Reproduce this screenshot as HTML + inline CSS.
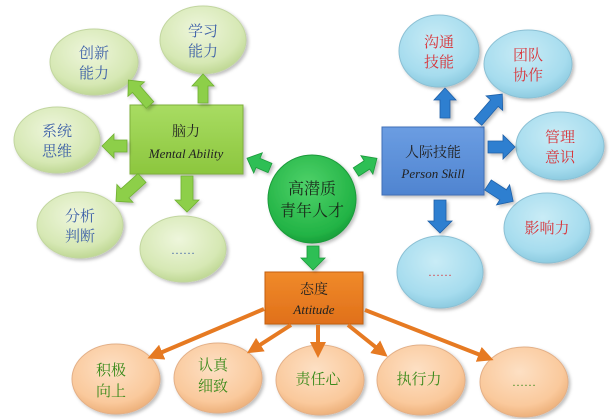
<!DOCTYPE html>
<html><head><meta charset="utf-8"><style>
html,body{margin:0;padding:0;background:#fff}
svg{display:block}
.cj{font-family:"Liberation Serif","Noto Serif CJK SC",serif;font-size:15px;text-anchor:middle}
.en{font-family:"Liberation Serif",serif;font-style:italic;font-size:13px;text-anchor:middle}
</style></head><body>
<svg width="614" height="419" viewBox="0 0 614 419" xmlns="http://www.w3.org/2000/svg">
<defs>
<radialGradient id="gG" cx="0.45" cy="0.35" r="0.7"><stop offset="0" stop-color="#eef6dc"/><stop offset="0.7" stop-color="#d6e8b4"/><stop offset="1" stop-color="#b9d38c"/></radialGradient>
<radialGradient id="bG" cx="0.45" cy="0.35" r="0.7"><stop offset="0" stop-color="#c9ecf6"/><stop offset="0.7" stop-color="#a6dcee"/><stop offset="1" stop-color="#86c6dc"/></radialGradient>
<radialGradient id="oG" cx="0.45" cy="0.35" r="0.7"><stop offset="0" stop-color="#fde0c4"/><stop offset="0.7" stop-color="#fac99c"/><stop offset="1" stop-color="#e9aa72"/></radialGradient>
<radialGradient id="cG" cx="0.45" cy="0.35" r="0.7"><stop offset="0" stop-color="#4fd26a"/><stop offset="0.8" stop-color="#22b345"/><stop offset="1" stop-color="#169636"/></radialGradient>
<linearGradient id="gR" x1="0" y1="0" x2="0" y2="1"><stop offset="0" stop-color="#a8dc62"/><stop offset="1" stop-color="#8cc63e"/></linearGradient>
<linearGradient id="bR" x1="0" y1="0" x2="0" y2="1"><stop offset="0" stop-color="#6b9de2"/><stop offset="1" stop-color="#4f84d0"/></linearGradient>
<linearGradient id="oR" x1="0" y1="0" x2="0" y2="1"><stop offset="0" stop-color="#f08a2a"/><stop offset="1" stop-color="#e0701a"/></linearGradient>
<marker id="mk" markerWidth="4" markerHeight="4" refX="2.5" refY="2" orient="auto" markerUnits="strokeWidth"><path d="M0,0 L4,2 L0,4 Z" fill="#e67a22"/></marker>
<filter id="sh" x="-20%" y="-20%" width="150%" height="150%"><feDropShadow dx="2" dy="2" stdDeviation="1.5" flood-color="#000" flood-opacity="0.25"/></filter>
</defs>

<!-- green ellipses -->
<g fill="url(#gG)" stroke="#c2d6a0" filter="url(#sh)">
<ellipse cx="94" cy="62" rx="44" ry="33"/>
<ellipse cx="203" cy="40" rx="43" ry="34"/>
<ellipse cx="57" cy="140" rx="43" ry="33"/>
<ellipse cx="80" cy="225" rx="43" ry="33"/>
<ellipse cx="183" cy="249" rx="43" ry="33"/>
</g>
<g class="cj" fill="#3f62a8">
<text x="94" y="58">创新</text><text x="94" y="78">能力</text>
<text x="203" y="36">学习</text><text x="203" y="56">能力</text>
<text x="57" y="136">系统</text><text x="57" y="156">思维</text>
<text x="80" y="221">分析</text><text x="80" y="241">判断</text>
<text x="183" y="254" style="font-size:12px">……</text>
</g>

<!-- blue ellipses -->
<g fill="url(#bG)" stroke="#8cc0d4" filter="url(#sh)">
<ellipse cx="439" cy="51" rx="40" ry="36"/>
<ellipse cx="528" cy="64" rx="44" ry="34"/>
<ellipse cx="560" cy="146" rx="44" ry="34"/>
<ellipse cx="547" cy="228" rx="43" ry="35"/>
<ellipse cx="440" cy="272" rx="43" ry="36"/>
</g>
<g class="cj" fill="#d8343a">
<text x="439" y="47">沟通</text><text x="439" y="67">技能</text>
<text x="528" y="60">团队</text><text x="528" y="80">协作</text>
<text x="560" y="142">管理</text><text x="560" y="162">意识</text>
<text x="547" y="233">影响力</text>
<text x="440" y="276" style="font-size:12px">……</text>
</g>

<!-- orange ellipses -->
<g fill="url(#oG)" stroke="#e3b088" filter="url(#sh)">
<ellipse cx="116" cy="379" rx="44" ry="35"/>
<ellipse cx="218" cy="378" rx="44" ry="35"/>
<ellipse cx="320" cy="380" rx="44" ry="35"/>
<ellipse cx="421" cy="380" rx="44" ry="35"/>
<ellipse cx="524" cy="382" rx="44" ry="35"/>
</g>
<g class="cj" fill="#3a8a1a">
<text x="111" y="375">积极</text><text x="111" y="396">向上</text>
<text x="213" y="370">认真</text><text x="213" y="391">细致</text>
<text x="318" y="384">责任心</text>
<text x="419" y="384">执行力</text>
<text x="524" y="386" style="font-size:12px">……</text>
</g>

<!-- rects -->
<rect x="130" y="105" width="113" height="69" fill="url(#gR)" stroke="#7fb03a" filter="url(#sh)"/>
<text class="cj" x="186" y="136" fill="#222" style="font-size:14px">脑力</text>
<text class="en" x="186" y="158" fill="#222">Mental Ability</text>

<rect x="382" y="127" width="102" height="68" fill="url(#bR)" stroke="#3f70b8" filter="url(#sh)"/>
<text class="cj" x="433" y="157" fill="#222" style="font-size:14px">人际技能</text>
<text class="en" x="433" y="178" fill="#222">Person Skill</text>

<rect x="265" y="272" width="98" height="52" fill="url(#oR)" stroke="#c55e10" filter="url(#sh)"/>
<text class="cj" x="314" y="294" fill="#222" style="font-size:14px">态度</text>
<text class="en" x="314" y="314" fill="#222">Attitude</text>

<!-- center circle -->
<circle cx="312" cy="199" r="44" fill="url(#cG)" stroke="#1a9a3a" filter="url(#sh)"/>
<text class="cj" x="312" y="194" fill="#1a2a1a" style="font-size:16px">高潜质</text>
<text class="cj" x="312" y="216" fill="#1a2a1a" style="font-size:16px">青年人才</text>

<!-- block arrows -->
<g fill="#8dcf4a" stroke="#6fb032" stroke-width="0.8" filter="url(#sh)">
<g transform="translate(150,105) rotate(-131)"><polygon points="0,-5 21,-5 21,-11 33,0 21,11 21,5 0,5"/></g>
<g transform="translate(203,103) rotate(-90)"><polygon points="0,-5 17,-5 17,-11 29,0 17,11 17,5 0,5"/></g>
<g transform="translate(127,146) rotate(180)"><polygon points="0,-6 13,-6 13,-12 25,0 13,12 13,6 0,6"/></g>
<g transform="translate(142,178) rotate(138)"><polygon points="0,-6 23,-6 23,-12 35,0 23,12 23,6 0,6"/></g>
<g transform="translate(187,176) rotate(90)"><polygon points="0,-6 24,-6 24,-12 36,0 24,12 24,6 0,6"/></g>
</g>
<g fill="#2fbf55" stroke="#1a9a3a" stroke-width="0.8" filter="url(#sh)">
<g transform="translate(270,168) rotate(-157)"><polygon points="0,-5 13,-5 13,-11 25,0 13,11 13,5 0,5"/></g>
<g transform="translate(356,172) rotate(-33)"><polygon points="0,-5 13,-5 13,-11 25,0 13,11 13,5 0,5"/></g>
<g transform="translate(313,246) rotate(90)"><polygon points="0,-6 12,-6 12,-12 24,0 12,12 12,6 0,6"/></g>
</g>
<g fill="#2f7fd0" stroke="#1f60a8" stroke-width="0.8" filter="url(#sh)">
<g transform="translate(445,118) rotate(-90)"><polygon points="0,-5 18,-5 18,-11 30,0 18,11 18,5 0,5"/></g>
<g transform="translate(478,122) rotate(-49)"><polygon points="0,-5 25,-5 25,-11 37,0 25,11 25,5 0,5"/></g>
<g transform="translate(488,147) rotate(0)"><polygon points="0,-6 15,-6 15,-12 27,0 15,12 15,6 0,6"/></g>
<g transform="translate(488,185) rotate(33)"><polygon points="0,-6 18,-6 18,-12 30,0 18,12 18,6 0,6"/></g>
<g transform="translate(440,200) rotate(90)"><polygon points="0,-6 21,-6 21,-12 33,0 21,12 21,6 0,6"/></g>
</g>

<!-- orange thin arrows -->
<g stroke="#e67a22" stroke-width="4" fill="none" marker-end="url(#mk)">
<line x1="264" y1="309" x2="153" y2="356"/>
<line x1="291" y1="325" x2="252" y2="350"/>
<line x1="318" y1="325" x2="318" y2="352"/>
<line x1="348" y1="325" x2="383" y2="353"/>
<line x1="365" y1="310" x2="488" y2="358"/>
</g>
</svg>
</body></html>
